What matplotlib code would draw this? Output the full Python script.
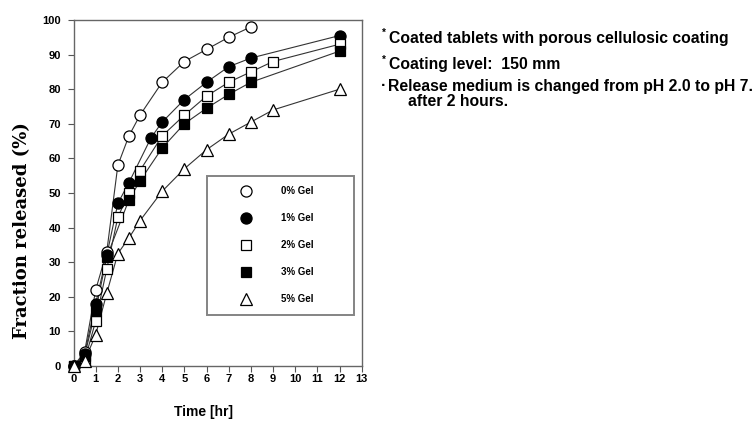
import matplotlib
matplotlib.use("Agg")
import matplotlib.pyplot as plt
from matplotlib.lines import Line2D

# ---- data ----
t0 = [0, 0.5, 1, 1.5, 2, 2.5, 3, 4, 5, 6, 7, 8]
g0 = [0, 4, 22, 33, 58, 66.5, 72.5, 82, 88, 91.5, 95, 98]

t1 = [0, 0.5, 1, 1.5, 2, 2.5, 3.5, 4, 5, 6, 7, 8, 12]
g1 = [0, 3.5, 18, 32, 47, 53, 66, 70.5, 77, 82, 86.5, 89, 95.5]

t2 = [0, 0.5, 1, 1.5, 2, 2.5, 3, 4, 5, 6, 7, 8, 9, 12]
g2 = [0, 1.5, 13, 28, 43, 50, 56.5, 66.5, 72.5, 78, 82, 85, 88, 93]

t3 = [0, 0.5, 1, 1.5, 2.5, 3, 4, 5, 6, 7, 8, 12]
g3 = [0, 3, 16, 31.5, 48, 53.5, 63, 70, 74.5, 78.5, 82, 91]

t4 = [0, 0.5, 1, 1.5, 2, 2.5, 3, 4, 5, 6, 7, 8, 9, 12]
g4 = [0, 1.5, 9, 21, 32.5, 37, 42, 50.5, 57, 62.5, 67, 70.5, 74, 80]

labels = ["0% Gel", "1% Gel", "2% Gel", "3% Gel", "5% Gel"]
xticks = list(range(0, 14))
yticks = list(range(0, 101, 10))

notes = ["Coated tablets with porous cellulosic coating",
         "Coating level:  150 mm",
         "Release medium is changed from pH 2.0 to pH 7.",
         "after 2 hours."]

# ---- styling ----
plt.rcParams['font.family'] = ['Liberation Sans', 'DejaVu Sans']

fig = plt.figure(figsize=(7.52, 4.21), dpi=100)
W, H = 752, 421
ax = fig.add_axes([73.5 / W, 1 - 366 / H, (361.7 - 73.5) / W, (366 - 20) / H])

series = [(t0, g0, 'o', 'white'), (t1, g1, 'o', 'black'), (t2, g2, 's', 'white'),
          (t3, g3, 's', 'black'), (t4, g4, '^', 'white')]
sizes = {'o': 8, 's': 7.8, '^': 8.5}
handles = []
for (t, g, m, fc), lab in zip(series, labels):
    ax.plot(t, g, '-', color='#333333', lw=0.8, zorder=2, clip_on=False)
    ax.plot(t, g, linestyle='none', marker=m, ms=sizes[m], mfc=fc, mec='black',
            mew=0.9, zorder=3, clip_on=False)
    handles.append(Line2D([], [], linestyle='none', marker=m, ms=sizes[m], mfc=fc,
                          mec='black', mew=0.9))

ax.set_xlim(0, 13)
ax.set_ylim(0, 100)
ax.set_xticks(xticks)
ax.set_yticks(yticks)
ax.tick_params(direction='out', length=4, width=0.8, color='#555555',
               labelsize=8, pad=2)
ax.tick_params(axis='y', pad=5)
for lab in ax.get_xticklabels() + ax.get_yticklabels():
    lab.set_fontweight('bold')
for sp in ax.spines.values():
    sp.set_color('#666666')
    sp.set_linewidth(1.0)

leg = ax.legend(handles, labels, loc='lower left',
                bbox_to_anchor=(0.464, 0.147, 0.509, 0.40), mode='expand',
                prop={'size': 7, 'weight': 'bold'}, frameon=True, fancybox=False,
                borderpad=1.1, labelspacing=1.75, handlelength=5.7,
                handletextpad=0.75, borderaxespad=0)
leg.get_frame().set_edgecolor('#666666')
leg.get_frame().set_linewidth(1.4)

fig.text(22 / W, 1 - 231 / H, "Fraction released (%)", rotation=90, ha='center',
         va='center', fontsize=13, fontweight='bold',
         family=['DejaVu Serif'])
fig.text(203 / W, 1 - 412 / H, "Time [hr]", ha='center', va='center',
         fontsize=10, fontweight='bold')

# notes on the right
fs = 11.3
fig.text(382 / W, 1 - 33 / H, "*", ha='left', va='center', fontsize=7, fontweight='bold')
fig.text(389 / W, 1 - 38 / H, notes[0], ha='left', va='center', fontsize=fs, fontweight='bold')
fig.text(382 / W, 1 - 60 / H, "*", ha='left', va='center', fontsize=7, fontweight='bold')
fig.text(389 / W, 1 - 65 / H, notes[1], ha='left', va='center', fontsize=fs, fontweight='bold')
fig.text(381 / W, 1 - 86 / H, "\u00b7", ha='left', va='center', fontsize=fs, fontweight='bold')
fig.text(388 / W, 1 - 87 / H, notes[2], ha='left', va='center', fontsize=fs, fontweight='bold')
fig.text(408 / W, 1 - 102 / H, notes[3], ha='left', va='center', fontsize=fs, fontweight='bold')

fig.savefig("out.png", dpi=100)
